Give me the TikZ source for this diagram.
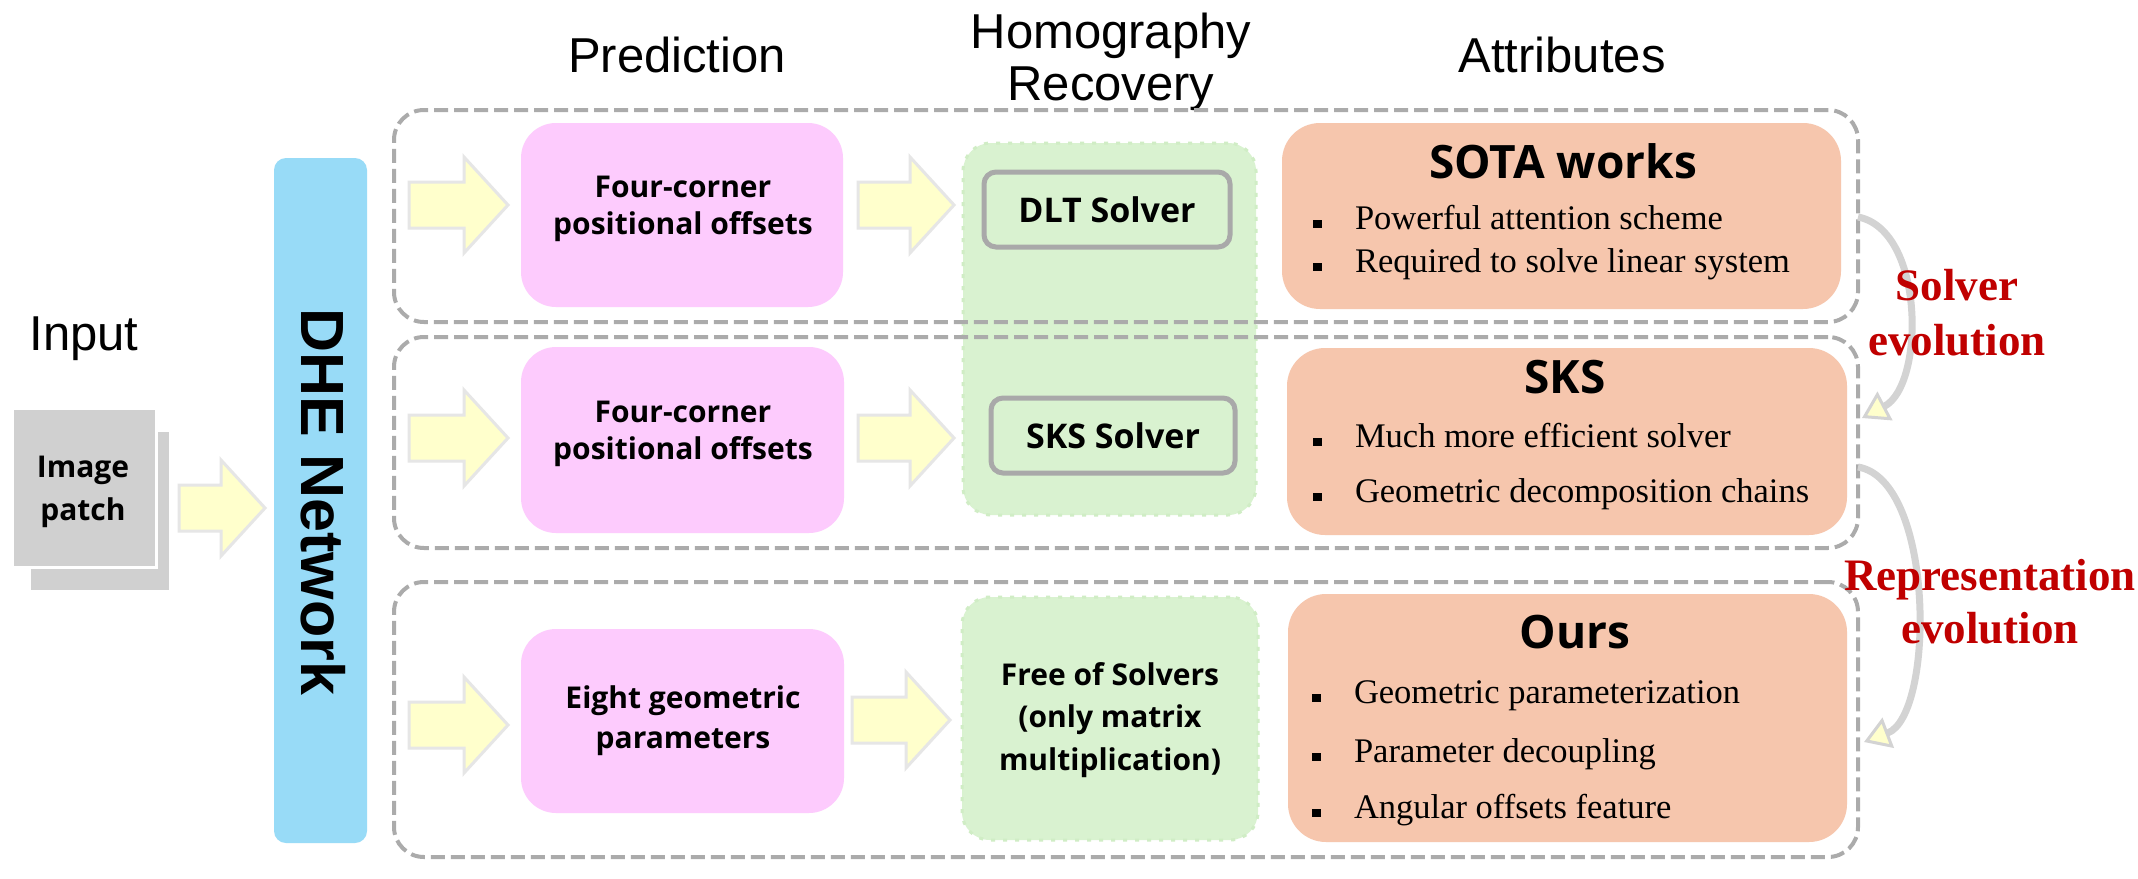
\documentclass[tikz,border=0pt]{standalone}
\usepackage{fontspec}
\setmainfont{Liberation Sans}
\newfontfamily\nsf{Open Sans}
\newfontfamily\tnr{Liberation Serif}
\usetikzlibrary{arrows.meta}
\definecolor{pinkc}{HTML}{FDCBFD}
\definecolor{orangec}{HTML}{F6C6AD}
\definecolor{greenc}{HTML}{D9F2D0}
\definecolor{greenb}{HTML}{D0EDC5}
\definecolor{bluec}{HTML}{98DBF7}
\definecolor{dashc}{HTML}{ABABAB}
\definecolor{patchc}{HTML}{D0D0D0}
\definecolor{yelc}{HTML}{FFFFCC}
\definecolor{arrowc}{HTML}{E6E6E6}
\definecolor{redc}{HTML}{C00000}
\definecolor{evoc}{HTML}{D3D3D3}
\definecolor{solverb}{HTML}{A9A9A9}
\newcommand\bsq{\rule[1pt]{9pt}{8.5pt}\hspace{33pt}}
\newcommand\blkarr[3]{%
  \draw[blkarrow] (#1,#3-23) -- (#2-44,#3-23) -- (#2-44,#3-48) -- (#2,#3)
    -- (#2-44,#3+48) -- (#2-44,#3+23) -- (#1,#3+23) -- cycle;}
\begin{document}
\begin{tikzpicture}[x=1pt,y=-1pt,
  every node/.style={inner sep=0pt, outer sep=0pt},
  hdr/.style={font=\fontsize{49}{52}\selectfont, align=center, anchor=base},
  dashbox/.style={draw=dashc, line width=4pt, dash pattern=on 14pt off 6pt, rounded corners=30pt, rectangle},
  greenbox/.style={fill=greenc, draw=greenb, line width=3pt, dash pattern=on 4pt off 8pt, rounded corners=28pt, rectangle},
  solverbox/.style={fill=greenc, draw=solverb, line width=5pt, rounded corners=12pt, rectangle},
  pinkbox/.style={fill=pinkc, rounded corners=35pt, rectangle},
  orangebox/.style={fill=orangec, rounded corners=38pt, rectangle},
  boxtext/.style={font=\nsf\bfseries\fontsize{30}{37}\selectfont, align=center, anchor=base},
  solvertext/.style={font=\nsf\bfseries\fontsize{34}{40}\selectfont},
  titletext/.style={font=\nsf\bfseries\fontsize{46}{50}\selectfont, anchor=base},
  attr/.style={font=\tnr\fontsize{34.5}{40}\selectfont, anchor=base west},
  evotext/.style={font=\tnr\bfseries\fontsize{45}{55}\selectfont, text=redc, align=center, anchor=base},
  blkarrow/.style={fill=yelc, draw=arrowc, line width=3pt, line join=miter},
  evo/.style={draw=evoc, line width=7pt, -{Triangle[length=26pt, width=32pt, fill=yelc, line width=3pt]}},
]
\useasboundingbox[fill=white] (0,0) rectangle (2138,878);

% headers
\node[hdr] (hin) at (84,350) {Input};
\node[hdr] (hpred) at (677,72) {Prediction};
\node[hdr] (hhom) at (1111,100) {Homography\\Recovery};
\node[hdr] (hattr) at (1562,72) {Attributes};

% image patch
\node[fill=patchc, minimum width=138pt, minimum height=158pt] (patchb) at (100,511) {};
\node[fill=patchc, draw=white, line width=3pt, minimum width=144pt, minimum height=159pt] (patch) at (84,487.5) {};
\node[font=\nsf\bfseries\fontsize{30}{43}\selectfont, align=center, anchor=base] (patcht) at (83,520) {Image\\patch};

% DHE network
\node[fill=bluec, rounded corners=12pt, minimum width=93pt, minimum height=685pt] (dhe) at (320.5,500.5) {};
\node[font=\bfseries\fontsize{61}{70}\selectfont, rotate=-90] (dhet) at (323,502) {DHE Network};

% green regions
\node[greenbox, minimum width=293pt, minimum height=372pt] (g1) at (1109.5,329) {};
\node[greenbox, minimum width=296pt, minimum height=243pt] (g3) at (1110,718.5) {};

% dashed row boxes
\node[dashbox, minimum width=1464pt, minimum height=212pt] (d1) at (1126,216) {};
\node[dashbox, minimum width=1464pt, minimum height=211pt] (d2) at (1126,442.5) {};
\node[dashbox, minimum width=1464pt, minimum height=275pt] (d3) at (1126,719.5) {};

% solvers
\node[solverbox, minimum width=246pt, minimum height=75pt, solvertext] (s1) at (1107,209.5) {DLT Solver};
\node[solverbox, minimum width=244pt, minimum height=75pt, solvertext] (s2) at (1113,435.5) {SKS Solver};
\node[boxtext] (g3t) at (1110,770) {Free of Solvers\\[5.5pt](only matrix\\[5.5pt]multiplication)};

% prediction boxes
\node[pinkbox, minimum width=322pt, minimum height=184pt] (p1) at (682,215) {};
\node[pinkbox, minimum width=323pt, minimum height=186pt] (p2) at (682.5,440) {};
\node[pinkbox, minimum width=323pt, minimum height=184pt] (p3) at (682.5,721) {};
\node[boxtext] (p1t) at (683,234) {Four-corner\\positional offsets};
\node[boxtext] (p2t) at (683,459) {Four-corner\\positional offsets};
\node[boxtext] (p3t) at (683,748) {Eight geometric\\[3pt]parameters};

% attribute boxes
\node[orangebox, minimum width=559pt, minimum height=186pt] (o1) at (1561.5,216) {};
\node[orangebox, minimum width=560pt, minimum height=187pt] (o2) at (1567,441.5) {};
\node[orangebox, minimum width=559pt, minimum height=248pt] (o3) at (1567.5,718) {};
\node[titletext] (o1t) at (1563,178) {SOTA works};
\node[titletext] (o2t) at (1565,393) {SKS};
\node[titletext] (o3t) at (1575,648) {Ours};
\node[attr] (o1a) at (1313,229) {\bsq Powerful attention scheme};
\node[attr] (o1b) at (1313,272) {\bsq Required to solve linear system};
\node[attr] (o2a) at (1313,447) {\bsq Much more efficient solver};
\node[attr] (o2b) at (1313,502) {\bsq Geometric decomposition chains};
\node[attr] (o3a) at (1312,703) {\bsq Geometric parameterization};
\node[attr] (o3b) at (1312,762) {\bsq Parameter decoupling};
\node[attr] (o3c) at (1312,818) {\bsq Angular offsets feature};

% block arrows
\blkarr{179}{265}{508}
\blkarr{409}{508}{205}
\blkarr{858}{954}{205}
\blkarr{409}{508}{438}
\blkarr{858}{954}{438}
\blkarr{409}{508}{725}
\blkarr{852}{950}{720}

% evolution arrows
\coordinate (ev1s) at (1858,217);
\coordinate (ev1e) at (1862,418);
\coordinate (ev2s) at (1858,467);
\coordinate (ev2e) at (1864,742);
\draw[evo] (ev1s) .. controls (1925,230) and (1925,385) .. (ev1e);
\draw[evo] (ev2s) .. controls (1935,480) and (1935,715) .. (ev2e);
\node[evotext] (ev1t) at (1957,355) {Solver\\evolution};
\node[evotext, font=\tnr\bfseries\fontsize{45}{53}\selectfont] (ev2t) at (1990,643) {Representation\\evolution};
\end{tikzpicture}
\end{document}
